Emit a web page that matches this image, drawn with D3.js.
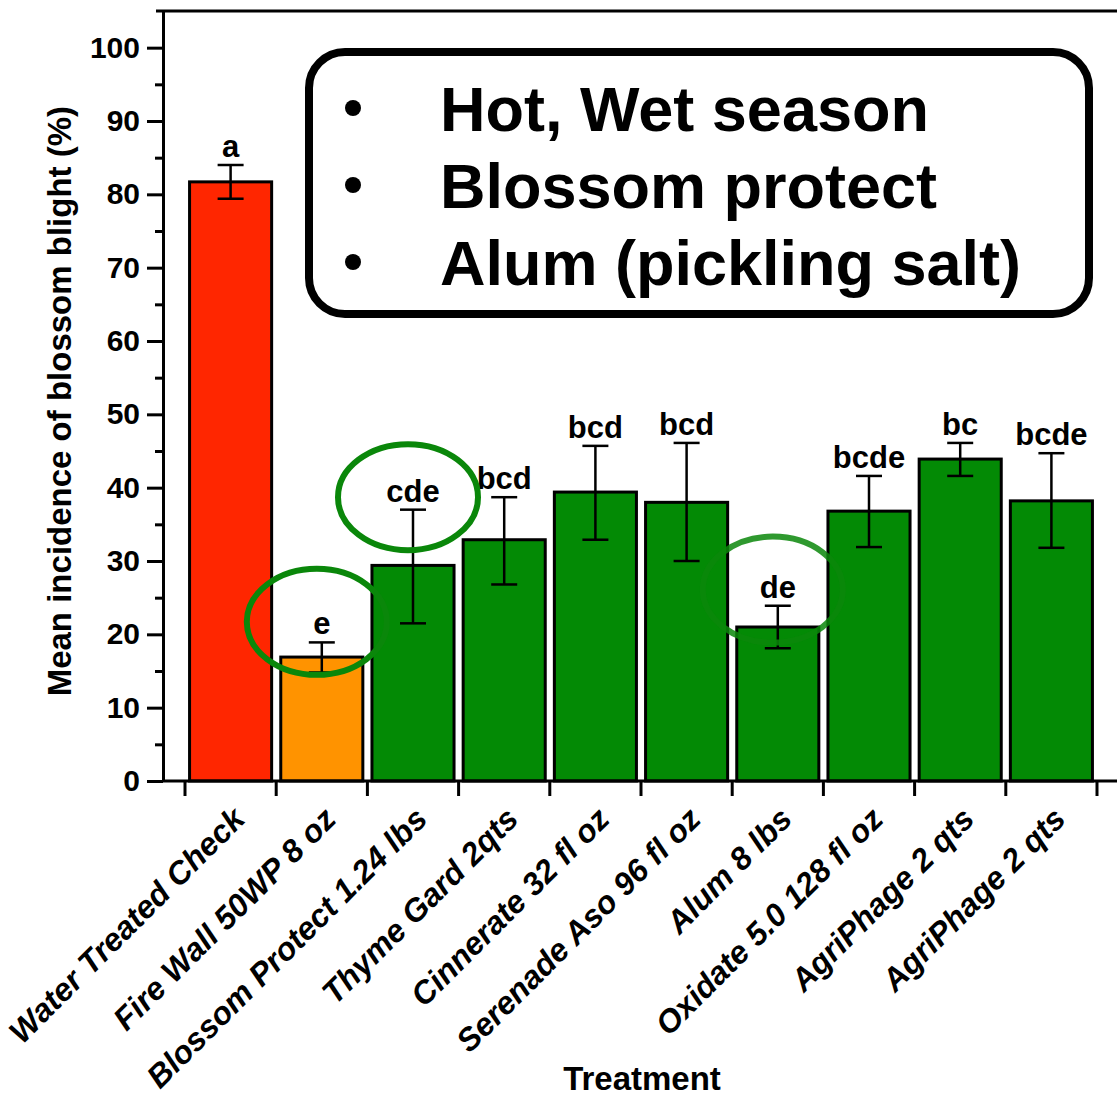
<!DOCTYPE html>
<html>
<head>
<meta charset="utf-8">
<script src="https://cdn.jsdelivr.net/npm/d3@7"></script>
<style>
  body { margin: 0; background: #fff; }
  text { font-family: "Liberation Sans", Arial, Helvetica, sans-serif; font-weight: bold; }
</style>
</head>
<body>
<div id="blight_plot"></div>
<script>
// treatments on the x axis
const treatments = ["Water Treated Check", "Fire Wall 50WP 8 oz", "Blossom Protect 1.24 lbs", "Thyme Gard 2qts",
    "Cinnerate 32 fl oz", "Serenade Aso 96 fl oz", "Alum 8 lbs", "Oxidate 5.0 128 fl oz", "AgriPhage 2 qts", "AgriPhage 2 qts"];
// mean incidence (%) and the ends of the error bars
const meanIncidence = [81.7, 16.9, 29.4, 32.9, 39.4, 38.0, 21.0, 36.8, 43.9, 38.2];
const errLow = [79.4, 14.8, 21.5, 26.8, 32.9, 30.0, 18.1, 31.9, 41.6, 31.8];
const errHigh = [84.0, 18.9, 37.0, 38.7, 45.7, 46.1, 23.9, 41.6, 46.1, 44.7];
const letters = ["a", "e", "cde", "bcd", "bcd", "bcd", "de", "bcde", "bc", "bcde"];
const treatmentType = ["check", "standard", "organic", "organic", "organic", "organic", "organic", "organic", "organic", "organic"];
const yMajorTicks = [0, 10, 20, 30, 40, 50, 60, 70, 80, 90, 100];
const yMinorTicks = [5, 15, 25, 35, 45, 55, 65, 75, 85, 95];
// circled letters: treatment index and the value the circle sits at
const circledIdx = [1, 2, 6];
const circledAt = [21.7, 38.7, 26.1];
const notes = ["Hot, Wet season", "Blossom protect", "Alum (pickling salt)"];

function plot_blight() {
    const width = 1117, height = 1098;
    const svg = d3.select("#blight_plot")
        .append("svg")
        .attr("width", width)
        .attr("height", height);

    const yAxisX = 163;
    const x = d3.scaleBand()
        .domain(d3.range(treatments.length))
        .range([185, 1097])
        .paddingInner(0.1)
        .paddingOuter(0.05);
    const y = d3.scaleLinear()
        .domain([0, 105])
        .range([781, 11]);

    const colors = d3.scaleOrdinal()
        .domain(["check", "standard", "organic"])
        .range(["#ff2600", "#ff9300", "#038a05"]);

    // top frame line
    svg.append("line")
        .attr("x1", yAxisX - 7).attr("x2", width)
        .attr("y1", y(105)).attr("y2", y(105))
        .attr("stroke", "black").attr("stroke-width", 3);

    // y axis, major + minor ticks
    const yAxis = svg.append("g")
        .attr("transform", "translate(" + yAxisX + ",0)")
        .call(d3.axisLeft(y).tickValues(yMajorTicks).tickSize(16).tickSizeOuter(0).tickPadding(7));
    yAxis.select(".domain").attr("stroke-width", 3);
    yAxis.selectAll(".tick line").attr("stroke-width", 3);
    yAxis.selectAll(".tick text")
        .style("font-size", "30px")
        .style("font-family", "'Liberation Sans', Arial, sans-serif")
        .style("font-weight", "bold")
        .attr("fill", "black");
    svg.append("g")
        .attr("transform", "translate(" + yAxisX + ",0)")
        .call(d3.axisLeft(y).tickValues(yMinorTicks).tickSize(8).tickFormat(""))
        .call(g => g.select(".domain").remove())
        .selectAll(".tick line").attr("stroke-width", 3);

    // bars
    svg.selectAll("myBars")
        .data(meanIncidence)
        .join("rect")
        .attr("x", (d, i) => x(i))
        .attr("y", d => y(d))
        .attr("width", x.bandwidth())
        .attr("height", d => y(0) - y(d))
        .attr("fill", (d, i) => colors(treatmentType[i]))
        .attr("stroke", "black")
        .attr("stroke-width", 3);

    // x axis line and ticks at the band edges
    svg.append("line")
        .attr("x1", yAxisX).attr("x2", width)
        .attr("y1", y(0)).attr("y2", y(0))
        .attr("stroke", "black").attr("stroke-width", 3);
    const half = x.step() * x.paddingInner() / 2;
    const edges = d3.range(treatments.length).map(i => x(i) - half).concat([x(treatments.length - 1) + x.bandwidth() + half]);
    svg.selectAll("myXTicks")
        .data(edges)
        .join("line")
        .attr("x1", d => d).attr("x2", d => d)
        .attr("y1", y(0)).attr("y2", y(0) + 15)
        .attr("stroke", "black").attr("stroke-width", 3);

    svg.selectAll("myXLabels")
        .data(treatments)
        .join("text")
        .attr("transform", (d, i) => "translate(" + (x(i) + x.bandwidth() / 2 + 16) + "," + (y(0) + 40) + ") rotate(-45)")
        .attr("text-anchor", "end")
        .style("font-size", "32px")
        .style("font-style", "italic")
        .text(d => d);

    // error bars
    const cap = 13;
    const err = svg.selectAll("myErr")
        .data(meanIncidence)
        .join("g")
        .attr("stroke", "black")
        .attr("stroke-width", 2.5);
    err.append("line")
        .attr("x1", (d, i) => x(i) + x.bandwidth() / 2).attr("x2", (d, i) => x(i) + x.bandwidth() / 2)
        .attr("y1", (d, i) => y(errLow[i])).attr("y2", (d, i) => y(errHigh[i]));
    err.append("line")
        .attr("x1", (d, i) => x(i) + x.bandwidth() / 2 - cap).attr("x2", (d, i) => x(i) + x.bandwidth() / 2 + cap)
        .attr("y1", (d, i) => y(errLow[i])).attr("y2", (d, i) => y(errLow[i]));
    err.append("line")
        .attr("x1", (d, i) => x(i) + x.bandwidth() / 2 - cap).attr("x2", (d, i) => x(i) + x.bandwidth() / 2 + cap)
        .attr("y1", (d, i) => y(errHigh[i])).attr("y2", (d, i) => y(errHigh[i]));

    // significance letters
    svg.selectAll("myLetters")
        .data(letters)
        .join("text")
        .attr("x", (d, i) => x(i) + x.bandwidth() / 2)
        .attr("y", (d, i) => y(errHigh[i]) - 8)
        .attr("text-anchor", "middle")
        .style("font-size", "31px")
        .text(d => d);

    // green circles around the letters of interest
    svg.selectAll("myCircles")
        .data(circledIdx)
        .join("ellipse")
        .attr("cx", (d, i) => x(d) + x.bandwidth() / 2 - 5)
        .attr("cy", (d, i) => y(circledAt[i]))
        .attr("rx", 70)
        .attr("ry", 53)
        .attr("fill", "none")
        .attr("stroke", "#0a870a")
        .attr("stroke-opacity", (d, i) => i === 2 ? 0.85 : 1)
        .attr("stroke-width", 6);

    // axis titles
    svg.append("text")
        .attr("transform", "translate(71," + y(51.8) + ") rotate(-90)")
        .attr("text-anchor", "middle")
        .style("font-size", "33px")
        .text("Mean incidence of blossom blight (%)");
    svg.append("text")
        .attr("x", 642)
        .attr("y", 1090)
        .attr("text-anchor", "middle")
        .style("font-size", "33px")
        .text("Treatment");

    // note box
    const box = svg.append("g");
    box.append("rect")
        .attr("x", 309).attr("y", 52)
        .attr("width", 780).attr("height", 262)
        .attr("rx", 36).attr("ry", 36)
        .attr("fill", "white")
        .attr("stroke", "black")
        .attr("stroke-width", 8);
    box.selectAll("myBullets")
        .data(notes)
        .join("circle")
        .attr("cx", 353)
        .attr("cy", (d, i) => 130 + i * 77 - 22)
        .attr("r", 8)
        .attr("fill", "black");
    box.selectAll("myNotes")
        .data(notes)
        .join("text")
        .attr("x", 440)
        .attr("y", (d, i) => 131 + i * 77)
        .style("font-size", "63px")
        .text(d => d);
}

plot_blight();
</script>
</body>
</html>
